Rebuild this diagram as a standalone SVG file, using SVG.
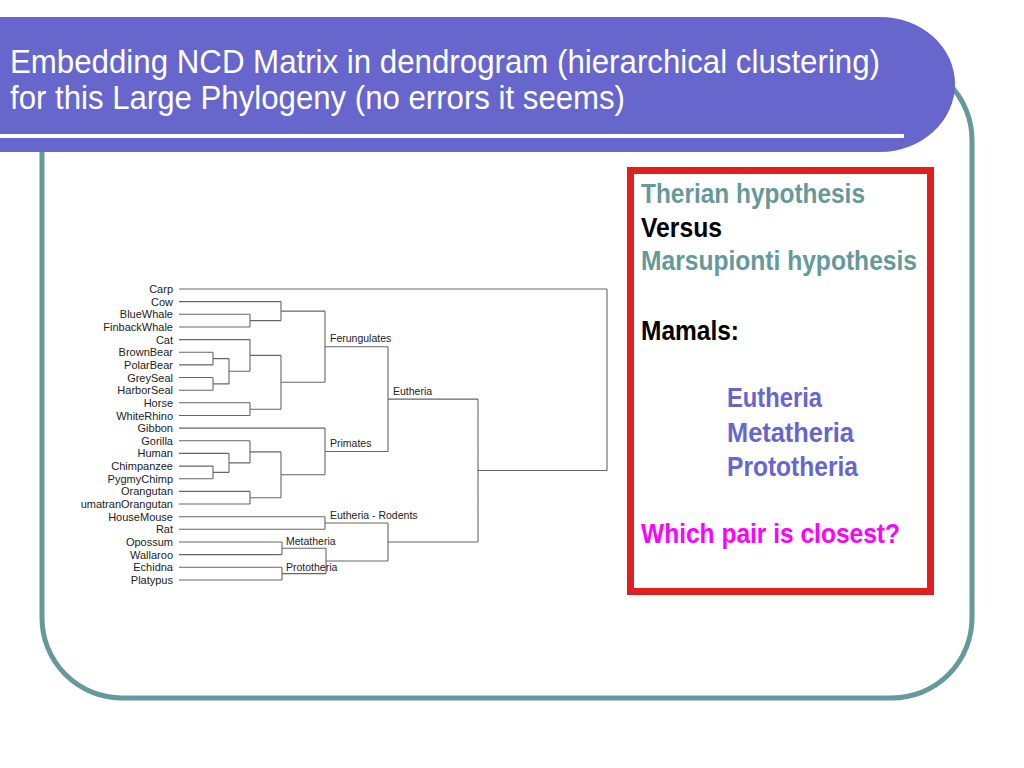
<svg xmlns="http://www.w3.org/2000/svg" width="1024" height="768" viewBox="0 0 1024 768">
<style>
.leaf{font-family:"Liberation Sans",Arial,sans-serif;font-size:11px;fill:#222;text-anchor:end}
.clade{font-family:"Liberation Sans",Arial,sans-serif;font-size:10.5px;fill:#222}
.tree{fill:none;stroke:#666;stroke-width:1.1}
.title{font-family:"Liberation Sans",Arial,sans-serif;font-size:34px;fill:#fff}
.big{font-family:"Liberation Sans",Arial,sans-serif;font-size:28.5px;font-weight:bold}
.teal{fill:#669999}
.blk{fill:#000}
.pur{fill:#6666CC}
.mag{fill:#FF00FF}
</style>
<rect width="1024" height="768" fill="#fff"/>
<g id="frame"><rect x="42" y="60" width="930" height="638" rx="80" ry="80" fill="none" stroke="#669999" stroke-width="5"/></g>
<g id="banner">
<path d="M0,17 H880 A75,67 0 0 1 955,84 A75,68 0 0 1 880,152 H0 Z" fill="#6666CC"/>
<rect x="0" y="134" width="904" height="4" fill="#fff"/>
<text class="title" x="10" y="73" textLength="870" lengthAdjust="spacingAndGlyphs">Embedding NCD Matrix in dendrogram (hierarchical clustering)</text>
<text class="title" x="10" y="109" textLength="615" lengthAdjust="spacingAndGlyphs">for this Large Phylogeny (no errors it seems)</text>
</g>
<g id="connectors" class="tree">
<path d="M179,289 H607 M179,301.6 H281 M179,314.3 H250 M179,327 H250 M179,339.6 H250 M179,352.2 H213 M179,364.9 H213 M179,377.5 H213 M179,390.2 H213 M179,402.8 H250 M179,415.5 H250 M179,428.1 H325 M179,440.8 H250 M179,453.4 H229 M179,466.1 H213 M179,478.7 H213 M179,491.4 H250 M179,504 H250 M179,516.7 H325 M179,529.3 H325 M179,542 H282 M179,554.6 H282 M179,567.3 H282 M179,580 H282"/>
<path d="M250,314.3 V327 M250,320.6 H281 M281,301.6 V320.6 M281,311.1 H325
M213,352.2 V364.9 M213,358.6 H229 M213,377.5 V390.2 M213,383.9 H229 M229,358.6 V383.9 M229,371.2 H250
M250,339.6 V371.2 M250,355.4 H281 M250,402.8 V415.5 M250,409.2 H281 M281,355.4 V409.2 M281,382.3 H325
M325,311.1 V382.3 M325,346.7 H388
M213,466.1 V478.7 M213,472.4 H229 M229,453.4 V472.4 M229,462.9 H250 M250,440.8 V462.9 M250,451.9 H281
M250,491.4 V504 M250,497.7 H281 M281,451.9 V497.7 M281,474.8 H325 M325,428.1 V474.8 M325,451.5 H388
M388,346.7 V451.5 M388,399.1 H478
M325,516.7 V529.3 M325,523 H388 M282,542 V554.6 M282,548.3 H326 M282,567.3 V580 M282,573.6 H326
M326,548.3 V573.6 M326,561 H388 M388,523 V561 M388,542 H478
M478,399.1 V542 M478,470.5 H607 M607,289 V470.5"/>
</g>
<g id="leaves">
<text id="carp" class="leaf" x="173" y="293">Carp</text>
<text id="cow" class="leaf" x="173" y="305.6">Cow</text>
<text id="bluewhale" class="leaf" x="173" y="318.3">BlueWhale</text>
<text id="finbackwhale" class="leaf" x="173" y="331">FinbackWhale</text>
<text id="cat" class="leaf" x="173" y="343.6">Cat</text>
<text id="brownbear" class="leaf" x="173" y="356.2">BrownBear</text>
<text id="polarbear" class="leaf" x="173" y="368.9">PolarBear</text>
<text id="greyseal" class="leaf" x="173" y="381.5">GreySeal</text>
<text id="harborseal" class="leaf" x="173" y="394.2">HarborSeal</text>
<text id="horse" class="leaf" x="173" y="406.8">Horse</text>
<text id="whiterhino" class="leaf" x="173" y="419.5">WhiteRhino</text>
<text id="gibbon" class="leaf" x="173" y="432.1">Gibbon</text>
<text id="gorilla" class="leaf" x="173" y="444.8">Gorilla</text>
<text id="human" class="leaf" x="173" y="457.4">Human</text>
<text id="chimpanzee" class="leaf" x="173" y="470.1">Chimpanzee</text>
<text id="pygmychimp" class="leaf" x="173" y="482.7">PygmyChimp</text>
<text id="orangutan" class="leaf" x="173" y="495.4">Orangutan</text>
<text id="sumatranorangutan" class="leaf" x="173" y="508">umatranOrangutan</text>
<text id="housemouse" class="leaf" x="173" y="520.7">HouseMouse</text>
<text id="rat" class="leaf" x="173" y="533.3">Rat</text>
<text id="opossum" class="leaf" x="173" y="546">Opossum</text>
<text id="wallaroo" class="leaf" x="173" y="558.6">Wallaroo</text>
<text id="echidna" class="leaf" x="173" y="571.3">Echidna</text>
<text id="platypus" class="leaf" x="173" y="584">Platypus</text>
</g>
<g id="clades">
<text id="ferungulates" class="clade" x="330" y="342">Ferungulates</text>
<text id="eutheria" class="clade" x="393" y="395">Eutheria</text>
<text id="primates" class="clade" x="330" y="447">Primates</text>
<text id="rodents" class="clade" x="330" y="518.5">Eutheria - Rodents</text>
<text id="metatheria" class="clade" x="286" y="544.5">Metatheria</text>
<text id="prototheria" class="clade" x="286" y="571">Prototheria</text>
</g>
<g id="question-box">
<rect x="630.5" y="170.5" width="300" height="421" fill="#fff" stroke="#E02020" stroke-width="7"/>
<text class="big teal" x="641" y="203" textLength="224" lengthAdjust="spacingAndGlyphs">Therian hypothesis</text>
<text class="big blk" x="641" y="237" textLength="81" lengthAdjust="spacingAndGlyphs">Versus</text>
<text class="big teal" x="641" y="270" textLength="276" lengthAdjust="spacingAndGlyphs">Marsupionti hypothesis</text>
<text class="big blk" x="641" y="340" textLength="98" lengthAdjust="spacingAndGlyphs">Mamals:</text>
<text class="big pur" x="727" y="407" textLength="95" lengthAdjust="spacingAndGlyphs">Eutheria</text>
<text class="big pur" x="727" y="442" textLength="127" lengthAdjust="spacingAndGlyphs">Metatheria</text>
<text class="big pur" x="727" y="476" textLength="131" lengthAdjust="spacingAndGlyphs">Prototheria</text>
<text class="big mag" x="641" y="543" textLength="259" lengthAdjust="spacingAndGlyphs">Which pair is closest?</text>
</g>
</svg>
